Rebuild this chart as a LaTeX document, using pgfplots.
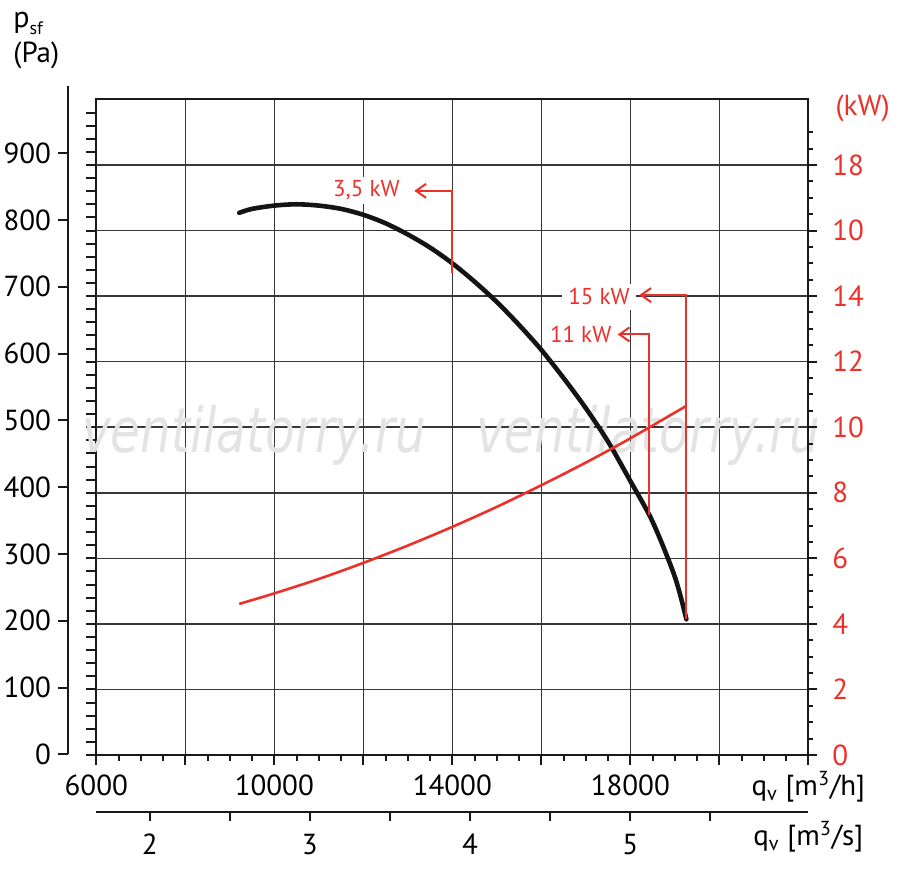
\documentclass[border=0pt]{standalone}
\usepackage{fontspec}
\setmainfont{PT Sans}
\newfontfamily\wmfont{DejaVu Sans}
\usepackage{graphicx}
\usepackage{pgfplots}
\pgfplotsset{compat=1.18}
\usetikzlibrary{arrows.meta}
\definecolor{kwred}{RGB}{236,48,42}
\definecolor{gridc}{RGB}{55,55,55}
\newcommand{\tl}{\fontsize{14.5}{16}\selectfont}
\newcommand{\al}{\fontsize{11.5}{13}\selectfont}
\pgfplotsset{scaled x ticks=false, scaled y ticks=false}

\begin{document}
\begin{tikzpicture}
\useasboundingbox (0,0) rectangle (450pt,434pt);

% ---------- main axis (Pa, m3/h) ----------
\begin{axis}[
  at={(48.15pt,56.5pt)}, anchor=south west,
  scale only axis, width=356pt, height=327.8pt,
  xmin=6000, xmax=22000, ymin=0, ymax=1000,
  xtick={6000,8000,...,22000},
  xticklabels={6000,,10000,,14000,,18000,,{q\textsubscript{v} [m\textsuperscript{3}/h]}},
  minor x tick num=3,
  ytick={0,20,...,980}, yticklabels={},
  extra y ticks={100,200,...,900}, extra y tick labels={},
  extra y tick style={grid=major},
  xmajorgrids=true,
  xtick pos=bottom, ytick pos=left,
  tick align=outside,
  major tick length=5pt, minor tick length=3pt,
  axis line style={black!90, line width=1pt},
  major grid style={gridc, line width=0.8pt},
  every tick/.style={black!90, line width=1pt},
  xticklabel style={font=\tl, anchor=base, yshift=-15.5pt},
  clip=false,
]
% watermark
\node[text=black!11, anchor=base, inner sep=0] at (axis cs:9541,462)
  {\scalebox{0.78}[1]{\wmfont\itshape\fontsize{31}{31}\selectfont ventilatorry.ru}};
\node[text=black!11, anchor=base, inner sep=0] at (axis cs:18400,462)
  {\scalebox{0.78}[1]{\wmfont\itshape\fontsize{31}{31}\selectfont ventilatorry.ru}};
% label boxes (white, hide grid behind text)
\node[fill=white, text=kwred, font=\al, anchor=base east, inner xsep=3pt, inner ysep=2pt]
  at (axis cs:12960,851.6) {3,5 kW};
\node[fill=white, text=kwred, font=\al, anchor=base east, inner xsep=3pt, inner ysep=2.5pt]
  at (axis cs:18128,686.4) {15 kW};
\node[fill=white, text=kwred, font=\al, anchor=base east, inner xsep=3pt, inner ysep=2.5pt]
  at (axis cs:17717,628.9) {11 kW};
% pressure curve
\addplot[black!92, line width=2.3pt, smooth, line cap=round] coordinates {
  (9213,827) (9500,833) (10000,838) (10500,840) (11000,838) (11500,833)
  (12000,824) (12500,811) (13000,794) (13500,774) (14000,750) (14500,722)
  (15000,691) (15500,656) (16000,618) (16500,575) (17000,529) (17500,478)
  (18000,418) (18500,356) (19000,272) (19260,207)
};
\end{axis}

% ---------- right axis (kW) ----------
\begin{axis}[
  at={(48.15pt,56.5pt)}, anchor=south west,
  scale only axis, width=356pt, height=327.8pt,
  xmin=6000, xmax=22000, ymin=0, ymax=20,
  hide x axis, axis y line*=right,
  ytick={0,2,...,18},
  yticklabels={0,2,4,6,8,10,12,14,10,18},
  minor ytick={0.5,1,...,19},
  tick align=outside,
  major tick length=4.5pt, minor tick length=2.2pt,
  axis line style={black!90, line width=1pt},
  every tick/.style={black!90, line width=1pt},
  yticklabel style={font=\tl, text=kwred, anchor=west, xshift=4pt},
  clip=false,
]
\addplot[kwred, line width=1.3pt, smooth] coordinates {
  (9213,4.61) (10000,4.93) (11000,5.37) (12000,5.86) (13000,6.39)
  (14000,6.96) (15000,7.57) (16000,8.23) (17000,8.92) (18000,9.66)
  (19260,10.65)
};
\addplot[kwred, line width=1pt, -{Straight Barb[length=5pt,width=7pt]}] coordinates {
  (14000,14.71) (14000,17.21) (13146,17.21)
};
\addplot[kwred, line width=1pt, -{Straight Barb[length=5pt,width=7pt]}] coordinates {
  (19260,4.14) (19260,14.03) (18202,14.03)
};
\addplot[kwred, line width=1pt, -{Straight Barb[length=5pt,width=7pt]}] coordinates {
  (18427,7.32) (18427,12.83) (17717,12.83)
};
\node[text=kwred, font=\tl, anchor=base west, inner sep=0] at (rel axis cs:1,0.975) {\hspace*{13.4pt}(kW)};
\end{axis}

% ---------- detached left pressure axis ----------
\begin{axis}[
  at={(34pt,56.85pt)}, anchor=south west,
  scale only axis, width=10pt, height=333.9pt,
  xmin=0, xmax=1, ymin=0, ymax=1000,
  hide x axis, axis y line*=left,
  ytick={0,100,...,900},
  yticklabels={0,100,200,300,400,500,600,700,800,900},
  tick align=outside, major tick length=5pt,
  axis line style={black!90, line width=1pt},
  every tick/.style={black!90, line width=1pt},
  yticklabel style={font=\tl, anchor=east, xshift=0pt},
]
\end{axis}

% ---------- bottom m3/s axis ----------
\begin{axis}[
  at={(48.15pt,28.15pt)}, anchor=south west,
  scale only axis, width=356pt, height=5pt,
  xmin=1.666667, xmax=6.111111, ymin=0, ymax=1,
  hide y axis, axis x line*=bottom,
  xtick={2,3,4,5}, xticklabels={2,3,4,5},
  minor xtick={2.5,3.5,4.5,5.5},
  extra x ticks={6.111111}, extra x tick labels={{q\textsubscript{v} [m\textsuperscript{3}/s]}},
  extra x tick style={major tick length=0pt},
  tick align=outside, major tick length=4.5pt, minor tick length=4.5pt,
  axis line style={black!90, line width=1pt},
  every tick/.style={black!90, line width=1pt},
  xticklabel style={font=\tl, anchor=base, yshift=-17pt},
]
\end{axis}

% ---------- left axis title ----------
\node[anchor=base west, inner sep=0, font=\fontsize{15}{17}\selectfont] at (6.5pt,420pt)
  {p\raisebox{-3.5pt}{\fontsize{9}{10}\selectfont sf}};
\node[anchor=base west, inner sep=0, font=\tl] at (6.5pt,402.5pt) {(Pa)};
\end{tikzpicture}
\end{document}
